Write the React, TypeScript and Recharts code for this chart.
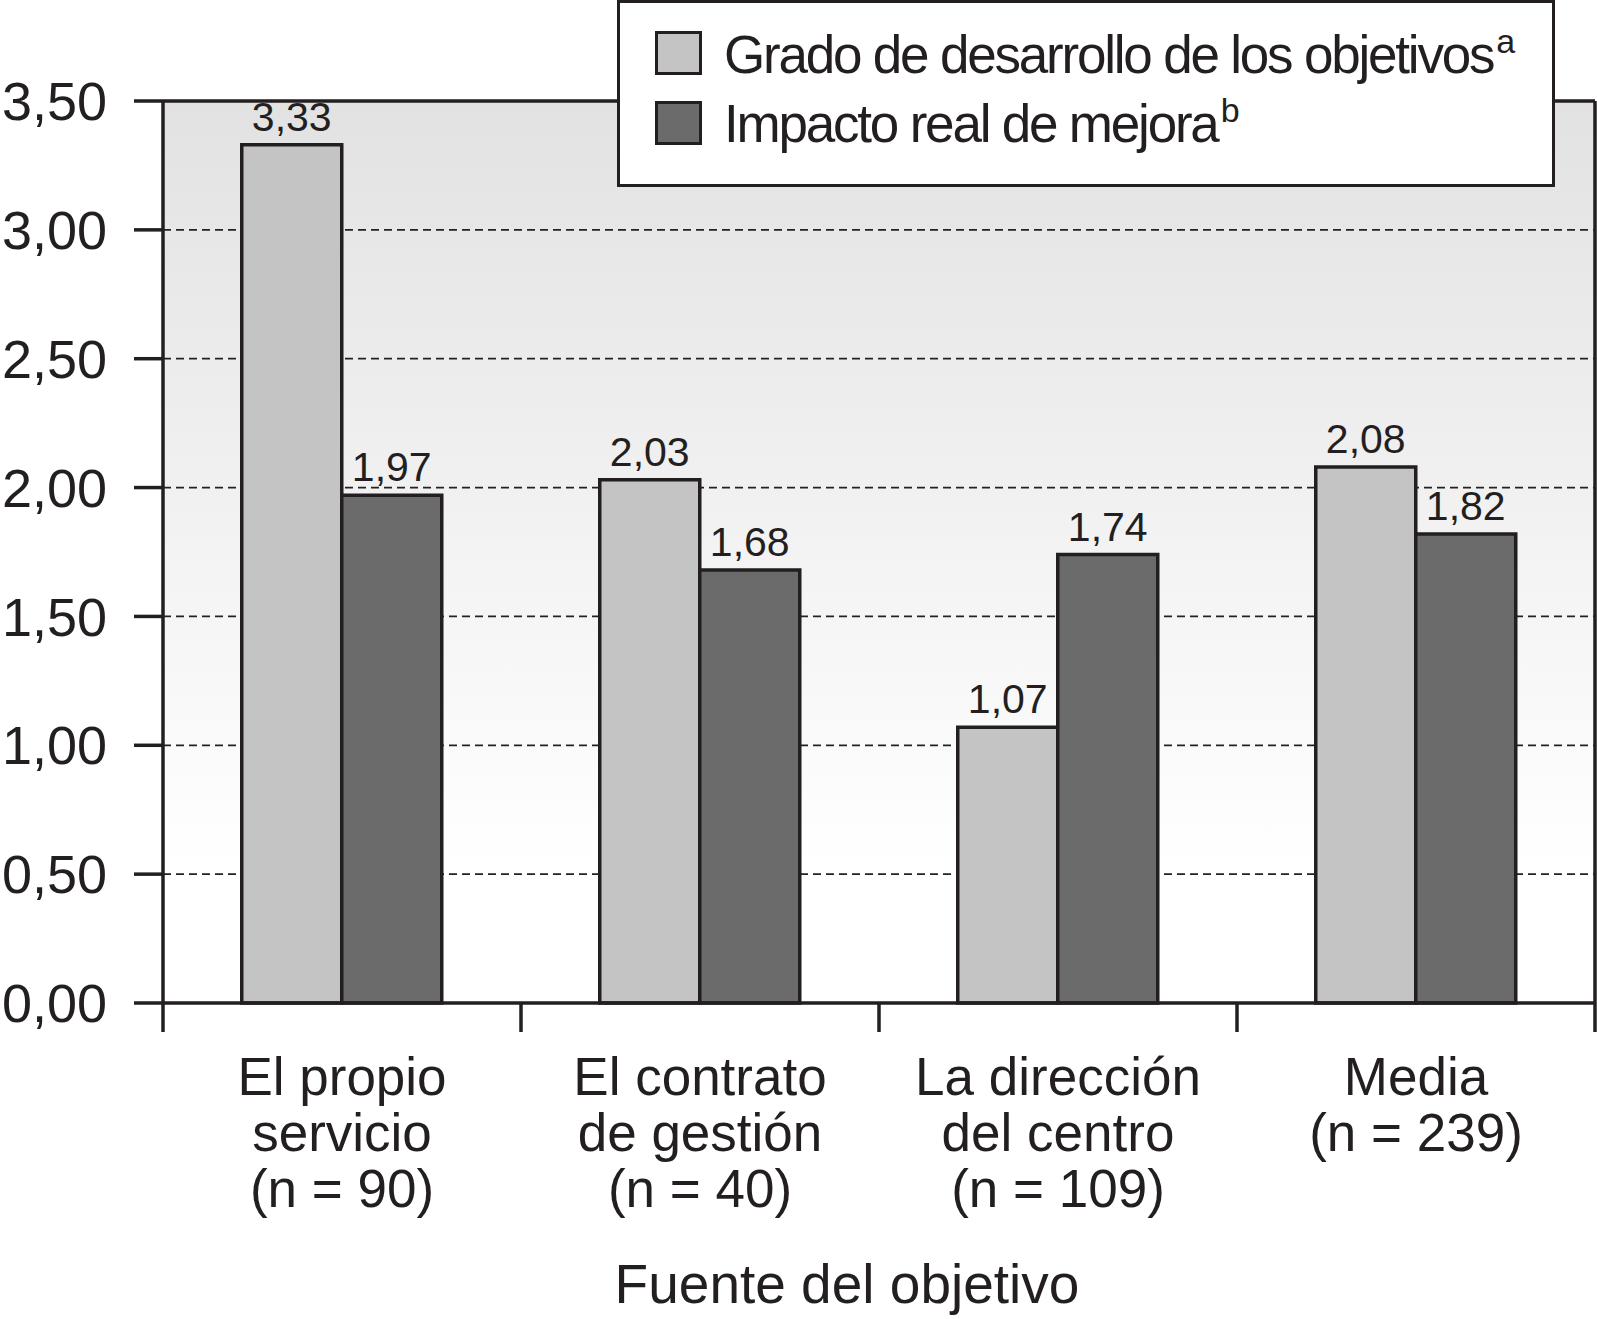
import {
  Bar,
  BarChart,
  CartesianGrid,
  Label,
  LabelList,
  Legend,
  ReferenceLine,
  XAxis,
  YAxis,
} from "recharts";

const categories = [
  "El propio\nservicio\n(n = 90)",
  "El contrato\nde gestión\n(n = 40)",
  "La dirección\ndel centro\n(n = 109)",
  "Media\n(n = 239)",
];
const gradoDesarrollo = [3.33, 2.03, 1.07, 2.08];
const impactoReal = [1.97, 1.68, 1.74, 1.82];
const yTicks = [0, 0.5, 1, 1.5, 2, 2.5, 3, 3.5];
const seriesNames = ["Grado de desarrollo de los objetivos", "Impacto real de mejora"];
const seriesMarks = ["a", "b"];
const xTitle = "Fuente del objetivo";

const data = categories.map((name, i) => ({
  name,
  grado: gradoDesarrollo[i],
  impacto: impactoReal[i],
}));

const INK = "#231f20";
const FONT = "'Liberation Sans', Arial, sans-serif";
const fills = ["#c4c4c4", "#6b6b6b"];

const fmt = (v: number) => v.toFixed(2).replace(".", ",");

// category label plus the boundary tick marks between groups
function CategoryTick({ x, y, payload, width, visibleTicksCount, index }: any) {
  const lines = String(payload.value).split("\n");
  const band = width / visibleTicksCount;
  const left = x - band / 2;
  const right = x + band / 2;
  return (
    <g>
      <line x1={left} x2={left} y1={y} y2={y + 29} stroke={INK} strokeWidth={3.5} />
      {index === visibleTicksCount - 1 && (
        <line x1={right} x2={right} y1={y} y2={y + 29} stroke={INK} strokeWidth={3.5} />
      )}
      <text x={x} y={y + 92} textAnchor="middle" fontSize={53} fill={INK} fontFamily={FONT}>
        {lines.map((l, i) => (
          <tspan key={i} x={x} dy={i === 0 ? 0 : 56}>
            {l}
          </tspan>
        ))}
      </text>
    </g>
  );
}

function LegendBox() {
  return (
    <div
      style={{
        position: "relative",
        width: 938,
        height: 187,
        background: "#fff",
        border: `3px solid ${INK}`,
        boxSizing: "border-box",
        fontFamily: FONT,
        color: INK,
      }}
    >
      {seriesNames.map((n, i) => (
        <div key={n}>
          <div
            style={{
              position: "absolute",
              left: 35,
              top: 28 + i * 70,
              width: 47,
              height: 44,
              background: fills[i],
              border: `3px solid ${INK}`,
              boxSizing: "border-box",
            }}
          />
          <div
            style={{
              position: "absolute",
              left: 104,
              top: 25 + i * 69,
              fontSize: 53,
              lineHeight: "53px",
              letterSpacing: -2.2,
              whiteSpace: "nowrap",
            }}
          >
            {n}
            <span style={{ fontSize: 34, position: "relative", top: -20, marginLeft: 3 }}>
              {seriesMarks[i]}
            </span>
          </div>
        </div>
      ))}
    </div>
  );
}

export default function App() {
  return (
    <div style={{ width: 1597, height: 1319, position: "relative" }}>
      <style>{"body{margin:0}"}</style>
      <BarChart
        width={1597}
        height={1319}
        data={data}
        margin={{ top: 101, right: 2, left: 0, bottom: 0 }}
        barGap={0}
        barCategoryGap="22%"
      >
        <defs>
          <linearGradient id="plotBg" x1="0" y1="0" x2="0" y2="1">
            <stop offset="0%" stopColor="#e2e2e2" />
            <stop offset="85%" stopColor="#ffffff" />
          </linearGradient>
        </defs>
        <CartesianGrid
          vertical={false}
          stroke="#222"
          strokeWidth={1.8}
          strokeDasharray="8 5"
          fill="url(#plotBg)"
          fillOpacity={1}
        />
        <XAxis
          dataKey="name"
          height={316}
          tickSize={0}
          tickMargin={0}
          tickLine={false}
          axisLine={{ stroke: INK, strokeWidth: 3.5 }}
          tick={<CategoryTick />}
          interval={0}
        >
          <Label
            content={({ viewBox }: any) => (
              <text
                x={viewBox.x + viewBox.width / 2 - 32}
                y={viewBox.y + viewBox.height - 16}
                textAnchor="middle"
                fontSize={55}
                fill={INK}
                fontFamily={FONT}
              >
                {xTitle}
              </text>
            )}
          />
        </XAxis>
        <YAxis
          width={163}
          domain={[0, 3.5]}
          ticks={yTicks}
          interval={0}
          tickFormatter={fmt}
          tickSize={29}
          tickMargin={27}
          axisLine={{ stroke: INK, strokeWidth: 3.5 }}
          tickLine={{ stroke: INK, strokeWidth: 3.5 }}
          tick={{ fill: INK, fontSize: 54, fontFamily: FONT }}
        />
        <Legend
          layout="vertical"
          align="center"
          verticalAlign="middle"
          content={<LegendBox />}
          wrapperStyle={{ left: 617, top: 0, width: 938, height: 187 }}
        />
        <Bar
          dataKey="grado"
          name={seriesNames[0]}
          fill={fills[0]}
          stroke={INK}
          strokeWidth={3.5}
          isAnimationActive={false}
        >
          <LabelList
            dataKey="grado"
            position="top"
            offset={14}
            formatter={(v: any) => fmt(Number(v))}
            style={{ fill: INK, fontSize: 41, fontFamily: FONT }}
          />
        </Bar>
        <Bar
          dataKey="impacto"
          name={seriesNames[1]}
          fill={fills[1]}
          stroke={INK}
          strokeWidth={3.5}
          isAnimationActive={false}
        >
          <LabelList
            dataKey="impacto"
            position="top"
            offset={14}
            formatter={(v: any) => fmt(Number(v))}
            style={{ fill: INK, fontSize: 41, fontFamily: FONT }}
          />
        </Bar>
        <ReferenceLine y={3.5} stroke={INK} strokeWidth={3.5} />
        <ReferenceLine
          x={categories[categories.length - 1]}
          position="end"
          stroke={INK}
          strokeWidth={3.5}
        />
      </BarChart>
    </div>
  );
}
